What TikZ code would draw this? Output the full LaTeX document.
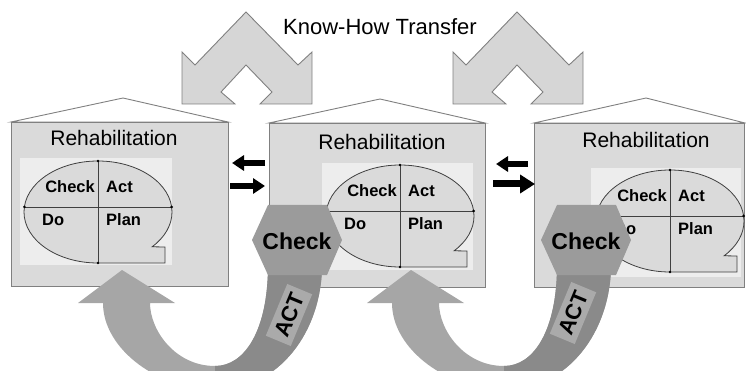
\documentclass[tikz,border=0pt]{standalone}
\usepackage{fontspec}
\setmainfont{Liberation Sans}
\usetikzlibrary{arrows.meta}

\definecolor{housefill}{RGB}{218,218,218}
\definecolor{panelfill}{RGB}{237,237,237}
\definecolor{edgegray}{RGB}{128,128,128}
\definecolor{chevfill}{RGB}{214,214,214}
\definecolor{hexfill}{RGB}{155,155,155}
\definecolor{armlight}{RGB}{166,166,166}
\definecolor{armdark}{RGB}{138,138,138}
\definecolor{actfill}{RGB}{170,170,170}

\tikzset{
  house/.style={draw=edgegray, fill=housefill, line width=0.9pt},
  roof/.style={draw=edgegray, fill=white, line width=0.9pt},
  chevron/.style={draw=edgegray, fill=chevfill, line width=0.9pt},
  cycleline/.style={draw=black!75, fill=housefill, line width=0.8pt},
  quarter/.style={draw=black!75, line width=0.8pt},
  title/.style={inner sep=0pt, font=\fontsize{21}{25}\selectfont},
  pdca/.style={inner sep=0pt, font=\fontsize{16.5}{20}\selectfont\bfseries},
  bigcheck/.style={inner sep=0pt, font=\fontsize{23}{27}\selectfont\bfseries},
  actlabel/.style={fill=actfill, inner sep=0pt, minimum width=56pt, minimum height=27pt,
    font=\fontsize{22}{24}\selectfont\bfseries},
  blkarrow/.style={line width=5.5pt, -{Triangle[length=12pt,width=15pt]}},
  bigblkarrow/.style={line width=7pt, -{Triangle[length=15pt,width=18pt]}},
}

% PDCA cycle: #1,#2 = centre of the ellipse, #3 = name prefix
\newcommand{\pdcacycle}[3]{%
  \draw[cycleline] (#1,#2+51) arc[start angle=90, end angle=403, x radius=74, y radius=51]
    -- (#1+67,#2+35) -- (#1+67,#2+51) -- cycle;
  \draw[quarter] (#1,#2-51) -- (#1,#2+51);
  \draw[quarter] (#1-73.6,#2-5) -- (#1+73.6,#2-5);
  \fill (#1,#2-51) circle (1.4) (#1,#2+51) circle (1.4)
        (#1-73.6,#2-5) circle (1.4) (#1+73.6,#2-5) circle (1.4);
  \node[pdca, anchor=east] (#3check) at (#1-3,#2-25) {Check};
  \node[pdca, anchor=west] (#3act) at (#1+8,#2-25) {Act};
  \node[pdca, anchor=west] (#3do) at (#1-56,#2+8) {Do};
  \node[pdca, anchor=west] (#3plan) at (#1+8,#2+8) {Plan};
}

% u-turn arrow, head up at the left
\newcommand{\uturnpath}{(150,303) -- (175,303) -- (122,270) -- (78,303) -- (103,303)
  .. controls (103,350) and (160,390) .. (215,390)
  .. controls (280,390) and (322,330) .. (322,265) -- (268,265)
  .. controls (268,330) and (245,366) .. (215,366)
  .. controls (175,366) and (150,330) .. cycle}

\begin{document}
\begin{tikzpicture}[x=1pt,y=-1pt]
  \useasboundingbox (0,0) rectangle (746,371);
  \clip (0,0) rectangle (746,371);

  % know-how transfer
  \draw[chevron] (182,104) -- (182,52) -- (195,65) -- (246,12) -- (298,65) -- (312,52)
    -- (312,104) -- (260,104) -- (272,92) -- (246,65) -- (221,92) -- (235,104) -- cycle;
  \draw[chevron, xshift=271] (182,104) -- (182,52) -- (195,65) -- (246,12) -- (298,65) -- (312,52)
    -- (312,104) -- (260,104) -- (272,92) -- (246,65) -- (221,92) -- (235,104) -- cycle;
  \node[title, font=\fontsize{22}{26}\selectfont] (transfer) at (380,27) {Know-How Transfer};

  % house 1
  \draw[roof] (11,122) -- (123,98) -- (228,122) -- cycle;
  \draw[house] (11,122) rectangle (228,286);
  \fill[panelfill] (20,158) rectangle (172,265);
  \node[title] (reha1) at (114,138) {Rehabilitation};
  \pdcacycle{98}{212}{one}

  % house 2
  \draw[roof] (269,123) -- (380,99) -- (485,123) -- cycle;
  \draw[house] (269,123) rectangle (485,287);
  \fill[panelfill] (322,163) rectangle (473,270);
  \node[title] (reha2) at (382,142) {Rehabilitation};
  \pdcacycle{400}{216}{two}

  % house 3
  \draw[roof] (534,123) -- (646,98) -- (745,123) -- cycle;
  \draw[house] (534,123) rectangle (744.5,287);
  \fill[panelfill] (591,168) rectangle (741,277);
  \node[title] (reha3) at (646,140) {Rehabilitation};
  \pdcacycle{670}{221}{three}

  % exchange arrows
  \coordinate (a1) at (265,163);
  \coordinate (a2) at (232,163);
  \coordinate (a3) at (230,186);
  \coordinate (a4) at (265,186);
  \draw[blkarrow] (a1) -- (a2);
  \draw[blkarrow] (a3) -- (a4);
  \coordinate (b1) at (528,164);
  \coordinate (b2) at (496,164);
  \coordinate (b3) at (493,184);
  \coordinate (b4) at (535,184);
  \draw[blkarrow] (b1) -- (b2);
  \draw[bigblkarrow] (b3) -- (b4);

  % check and act loops
  \fill[armlight] \uturnpath;
  \begin{scope}
    \clip \uturnpath;
    \fill[armdark] (215,250) rectangle (340,400);
  \end{scope}
  \node[actlabel, rotate=67.5] (act1) at (289,315) {ACT};
  \fill[hexfill] (252,240) -- (268,205) -- (327,205) -- (342,240) -- (327,275) -- (268,275) -- cycle;
  \node[bigcheck] (hex1) at (297,241) {Check};

  \begin{scope}[xshift=289]
    \fill[armlight] \uturnpath;
    \begin{scope}
      \clip \uturnpath;
      \fill[armdark] (215,250) rectangle (340,400);
    \end{scope}
    \node[actlabel, rotate=67.5] (act2) at (284,313) {ACT};
    \fill[hexfill] (252,240) -- (268,205) -- (327,205) -- (342,240) -- (327,275) -- (268,275) -- cycle;
    \node[bigcheck] (hex2) at (297,241) {Check};
  \end{scope}
\end{tikzpicture}
\end{document}
